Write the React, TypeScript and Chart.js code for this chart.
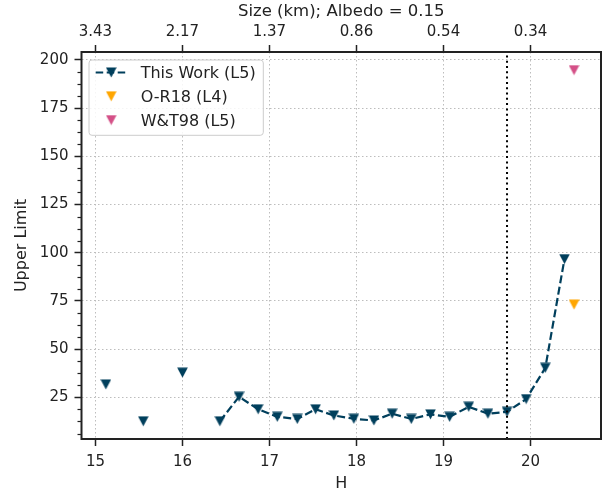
import React, { useEffect, useRef } from "react";
import { Chart, registerables } from "chart.js";

Chart.register(...registerables);

// ---- data ----
const H_WORK = [15.12, 15.55, 16.0, 16.43, 16.65, 16.87, 17.09, 17.32, 17.53, 17.74, 17.97, 18.2, 18.41, 18.63, 18.85, 19.07, 19.29, 19.51, 19.73, 19.95, 20.17, 20.39];
const UL_WORK = [31.7, 12.6, 37.8, 12.6, 25.3, 18.8, 14.9, 13.8, 18.8, 15.6, 13.9, 13.0, 16.5, 13.8, 16.2, 14.9, 20.1, 16.5, 17.5, 24.1, 40.3, 96.7];
const WORK_LINE_START = 3; // first index joined by the dashed line
const H_OR18 = [20.5];
const UL_OR18 = [73.1];
const H_WT98 = [20.5];
const UL_WT98 = [194.7];
const SERIES_NAMES = ["This Work (L5)", "O-R18 (L4)", "W&T98 (L5)"];
const X_TICKS = [15, 16, 17, 18, 19, 20];
const SIZE_LABELS = ["3.43", "2.17", "1.37", "0.86", "0.54", "0.34"];
const Y_TICKS = [25, 50, 75, 100, 125, 150, 175, 200];
const Y_MINOR_STEP = 6.25;
const VLINE_H = 19.73;
const X_MIN = 14.84;
const X_MAX = 20.81;
const Y_MIN = 3.4;
const Y_MAX = 204.1;
const X_TITLE = "H";
const Y_TITLE = "Upper Limit";
const TOP_TITLE = "Size (km); Albedo = 0.15";

// ---- styles ----
const NAVY = "#003f5c";
const ORANGE = "#ffa600";
const PINK = "#d45087";
const INK = "#222222";
const GRID = "#bdbdbd";
const FONT = "'DejaVu Sans', sans-serif";
const TICK_SIZE = 15;
const LABEL_SIZE = 16;
const TOP_TITLE_SIZE = 16.5;
const LEGEND_SIZE = 16;

function makeTriangle(color: string): HTMLCanvasElement {
  const c = document.createElement("canvas");
  const w = 11;
  const h = 11;
  c.width = w;
  c.height = h;
  const ctx = c.getContext("2d")!;
  ctx.fillStyle = color;
  ctx.beginPath();
  ctx.moveTo(0.2, 0.6);
  ctx.lineTo(w - 0.2, 0.6);
  ctx.lineTo(w / 2, h - 0.4);
  ctx.closePath();
  ctx.fill();
  return c;
}

function pts(xs: number[], ys: number[]) {
  return xs.map((x, i) => ({ x, y: ys[i] }));
}

export default function App() {
  const ref = useRef<HTMLCanvasElement>(null);

  useEffect(() => {
    document.body.style.margin = "0";
    const canvas = ref.current!;
    const triNavy = makeTriangle(NAVY);
    const triOrange = makeTriangle(ORANGE);
    const triPink = makeTriangle(PINK);
    const workPts = pts(H_WORK, UL_WORK);

    const decor = {
      id: "decor",
      afterDatasetsDraw(chart: any) {
        const { ctx, chartArea: ca, scales } = chart;
        const x = scales.x.getPixelForValue(VLINE_H);
        ctx.save();
        ctx.strokeStyle = "#000000";
        ctx.lineWidth = 2;
        ctx.setLineDash([2, 3.3]);
        ctx.beginPath();
        ctx.moveTo(x, ca.bottom);
        ctx.lineTo(x, ca.top);
        ctx.stroke();
        ctx.restore();
      },
      afterDraw(chart: any) {
        const { ctx, chartArea: ca, scales } = chart;
        ctx.save();
        // minor y ticks
        ctx.strokeStyle = INK;
        ctx.lineWidth = 1.2;
        const ys = scales.y;
        for (let v = Math.ceil(Y_MIN / Y_MINOR_STEP) * Y_MINOR_STEP; v <= Y_MAX; v += Y_MINOR_STEP) {
          if (Y_TICKS.includes(v)) continue;
          const py = Math.round(ys.getPixelForValue(v)) + 0.5;
          ctx.beginPath();
          ctx.moveTo(ca.left - 4, py);
          ctx.lineTo(ca.left, py);
          ctx.stroke();
        }
        // frame
        ctx.lineWidth = 2;
        ctx.strokeStyle = INK;
        ctx.strokeRect(ca.left, ca.top, ca.right - ca.left, ca.bottom - ca.top);

        // legend
        const lx = ca.left + 7.5;
        const ly = ca.top + 8;
        const lw = 174.3;
        const lh = 75.3;
        const r = 3;
        ctx.beginPath();
        ctx.moveTo(lx + r, ly);
        ctx.lineTo(lx + lw - r, ly);
        ctx.arcTo(lx + lw, ly, lx + lw, ly + r, r);
        ctx.lineTo(lx + lw, ly + lh - r);
        ctx.arcTo(lx + lw, ly + lh, lx + lw - r, ly + lh, r);
        ctx.lineTo(lx + r, ly + lh);
        ctx.arcTo(lx, ly + lh, lx, ly + lh - r, r);
        ctx.lineTo(lx, ly + r);
        ctx.arcTo(lx, ly, lx + r, ly, r);
        ctx.closePath();
        ctx.fillStyle = "rgba(255,255,255,0.85)";
        ctx.fill();
        ctx.strokeStyle = "#cccccc";
        ctx.lineWidth = 1;
        ctx.stroke();

        const markers = [triNavy, triOrange, triPink];
        ctx.font = `${LEGEND_SIZE}px ${FONT}`;
        ctx.fillStyle = INK;
        ctx.textBaseline = "alphabetic";
        ctx.textAlign = "left";
        SERIES_NAMES.forEach((name, i) => {
          const cy = ly + 12.5 + i * 23.8;
          if (i === 0) {
            ctx.save();
            ctx.strokeStyle = NAVY;
            ctx.lineWidth = 2.2;
            ctx.setLineDash([7.5, 3.5]);
            ctx.beginPath();
            ctx.moveTo(lx + 6.7, cy);
            ctx.lineTo(lx + 37.7, cy);
            ctx.stroke();
            ctx.restore();
          }
          const m = markers[i];
          ctx.drawImage(m, lx + 22.2 - m.width / 2, cy - m.height / 2);
          ctx.fillText(name, lx + 51.7, cy + 5.8);
        });
        ctx.restore();
      },
    };

    const tickFont = { family: FONT, size: TICK_SIZE };
    const labelFont = { family: FONT, size: LABEL_SIZE };

    const chart = new Chart(canvas, {
      type: "scatter",
      data: {
        datasets: [
          {
            label: SERIES_NAMES[0],
            data: workPts.slice(0, WORK_LINE_START),
            showLine: false,
            pointStyle: triNavy as any,
            pointRadius: 5,
            borderColor: NAVY,
            backgroundColor: NAVY,
          },
          {
            label: SERIES_NAMES[0],
            data: workPts.slice(WORK_LINE_START),
            showLine: true,
            borderColor: NAVY,
            backgroundColor: NAVY,
            borderWidth: 2.2,
            borderDash: [8, 3.5],
            pointStyle: triNavy as any,
            pointRadius: 5,
          },
          {
            label: SERIES_NAMES[1],
            data: pts(H_OR18, UL_OR18),
            showLine: false,
            pointStyle: triOrange as any,
            pointRadius: 5,
            borderColor: ORANGE,
            backgroundColor: ORANGE,
          },
          {
            label: SERIES_NAMES[2],
            data: pts(H_WT98, UL_WT98),
            showLine: false,
            pointStyle: triPink as any,
            pointRadius: 5,
            borderColor: PINK,
            backgroundColor: PINK,
          },
        ],
      },
      options: {
        animation: false,
        responsive: false,
        devicePixelRatio: 1,
        layout: { padding: { left: 0, right: 12, top: 0, bottom: 0 } },
        plugins: {
          legend: { display: false },
          tooltip: { enabled: false },
        },
        scales: {
          x: {
            type: "linear",
            position: "bottom",
            min: X_MIN,
            max: X_MAX,
            afterBuildTicks: (s: any) => {
              s.ticks = X_TICKS.map((v) => ({ value: v }));
            },
            afterFit: (s: any) => {
              s.height = 55;
            },
            ticks: {
              color: INK,
              font: tickFont,
              padding: 7,
              maxRotation: 0,
              autoSkip: false,
              callback: (v: any) => String(v),
            },
            grid: { color: GRID, lineWidth: 1, tickLength: 7, tickColor: INK, tickWidth: 1.5 },
            border: { display: false, dash: [1.5, 2.5] },
            title: { display: true, text: X_TITLE, color: INK, font: labelFont, padding: { top: 0, bottom: 1 } },
          },
          x2: {
            type: "linear",
            position: "top",
            min: X_MIN,
            max: X_MAX,
            afterBuildTicks: (s: any) => {
              s.ticks = X_TICKS.map((v) => ({ value: v }));
            },
            afterFit: (s: any) => {
              s.height = 52;
            },
            ticks: {
              color: INK,
              font: tickFont,
              padding: 4,
              maxRotation: 0,
              autoSkip: false,
              callback: (_v: any, i: number) => SIZE_LABELS[i],
            },
            grid: { drawOnChartArea: false, tickLength: 7, tickColor: INK, tickWidth: 1.5 },
            border: { display: false },
            title: { display: true, text: TOP_TITLE, color: INK, font: { family: FONT, size: TOP_TITLE_SIZE }, padding: { top: 2, bottom: 0 } },
          },
          y: {
            type: "linear",
            position: "left",
            min: Y_MIN,
            max: Y_MAX,
            afterBuildTicks: (s: any) => {
              s.ticks = Y_TICKS.map((v) => ({ value: v }));
            },
            afterFit: (s: any) => {
              s.width = 81.5;
            },
            ticks: {
              color: INK,
              font: tickFont,
              padding: 6,
              autoSkip: false,
              callback: (v: any) => String(v),
            },
            grid: { color: GRID, lineWidth: 1, tickLength: 7, tickColor: INK, tickWidth: 1.5 },
            border: { display: false, dash: [1.5, 2.5] },
            title: { display: true, text: Y_TITLE, color: INK, font: labelFont, padding: { top: 12, bottom: 0 } },
          },
        },
      } as any,
      plugins: [decor],
    });
    return () => chart.destroy();
  }, []);

  return (
    <div style={{ width: 613, height: 494 }}>
      <canvas ref={ref} width={613} height={494} style={{ display: "block" }} />
    </div>
  );
}
